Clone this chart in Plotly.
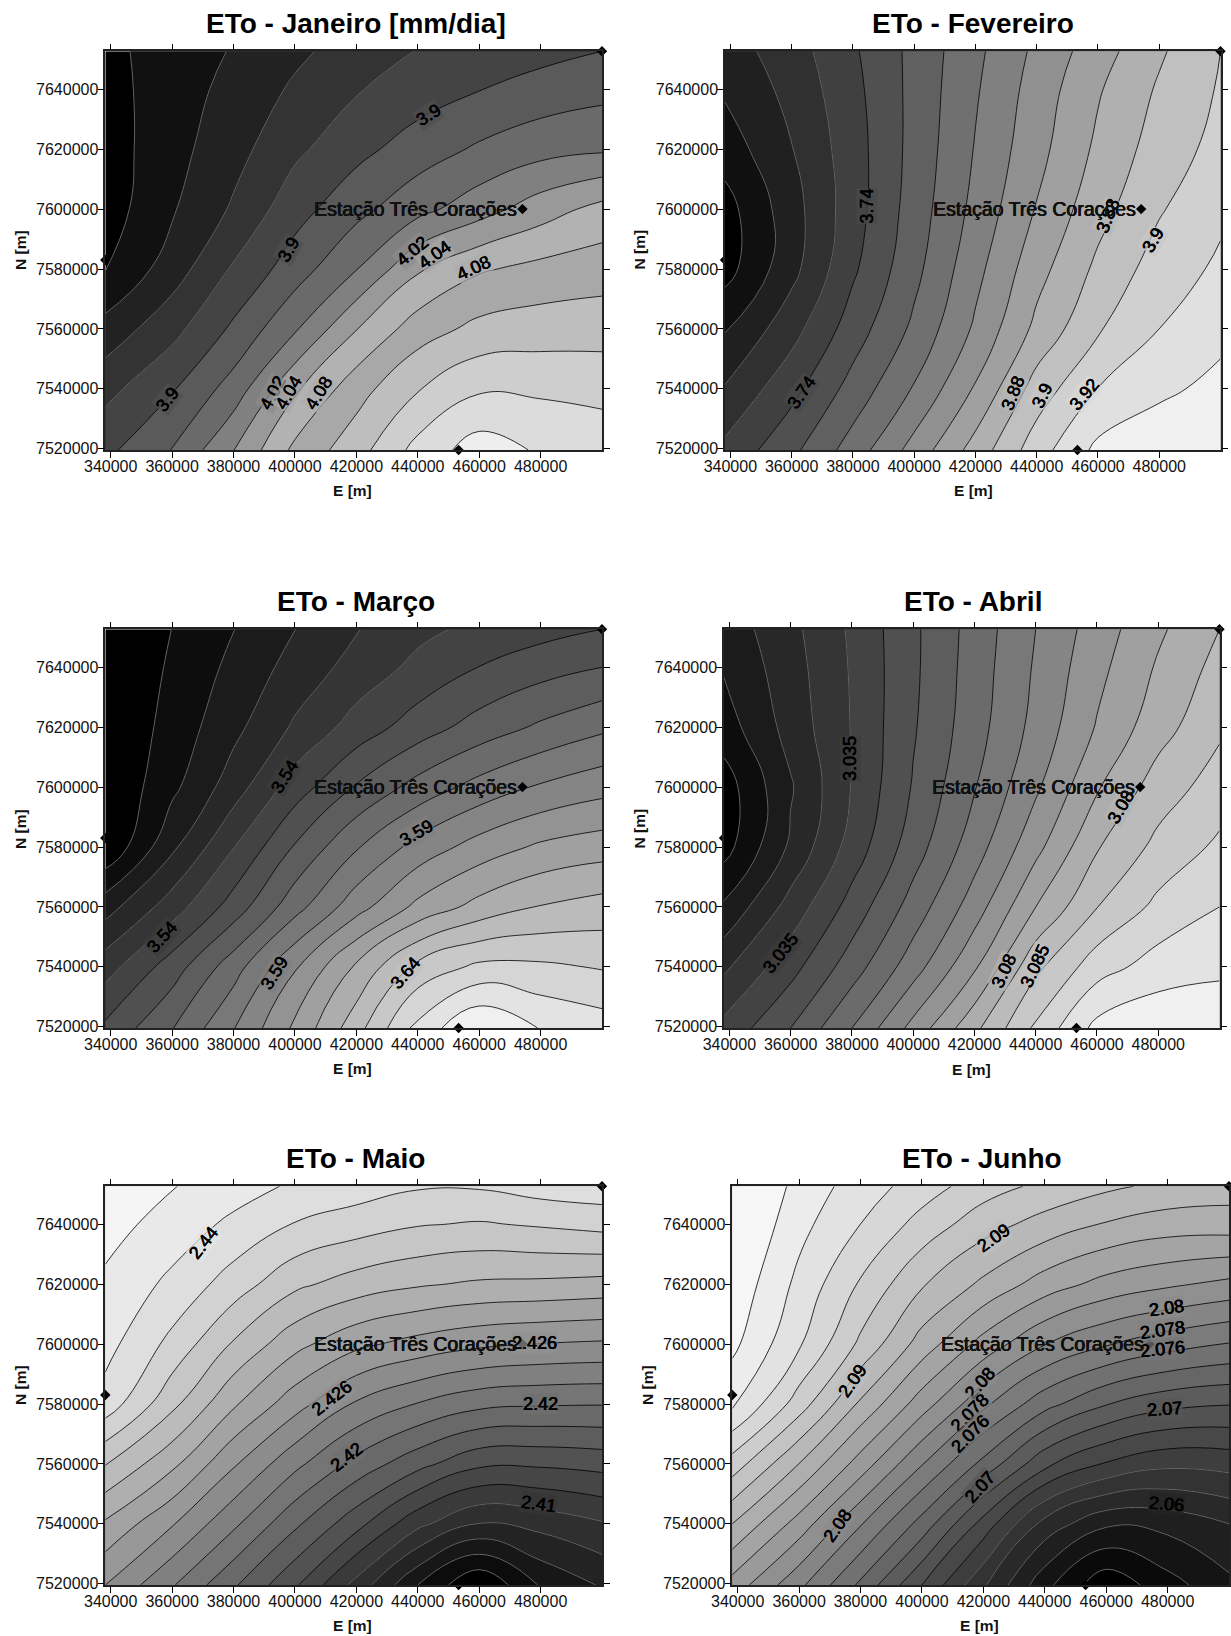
import numpy as np
import plotly.graph_objects as go

# Grid nodes (E, N) in metres
east = [338250, 360000, 380000, 400000, 420000, 440000, 460000, 480000, 500000]
north = [7519566, 7540000, 7560000, 7580000, 7600000, 7620000, 7640000, 7652690]
tick_e = [340000, 360000, 380000, 400000, 420000, 440000, 460000, 480000]
tick_n = [7520000, 7540000, 7560000, 7580000, 7600000, 7620000, 7640000]

# ETo [mm/dia], rows from south to north
jan_z = [
 [3.890, 3.9412, 4.019, 4.0896, 4.1435, 4.2137, 4.260, 4.235, 4.225],
 [3.847, 3.897, 3.947, 4.044, 4.107, 4.158, 4.200, 4.195, 4.1875],
 [3.7945, 3.846, 3.908, 3.965, 4.047, 4.104, 4.131, 4.139, 4.143],
 [3.738, 3.7956, 3.868, 3.920, 3.967, 4.045, 4.084, 4.095, 4.101],
 [3.720, 3.7756, 3.820, 3.887, 3.929, 3.9605, 3.995, 4.032, 4.053],
 [3.720, 3.767, 3.804, 3.852, 3.887, 3.920, 3.948, 3.962, 3.974],
 [3.725, 3.761, 3.7918, 3.8245, 3.857, 3.877, 3.8955, 3.915, 3.9277],
 [3.730, 3.757, 3.783, 3.8116, 3.8376, 3.8615, 3.874, 3.887, 3.900],
]
feb_z = [
 [3.725, 3.755, 3.789, 3.8275, 3.868, 3.911, 3.945, 3.955, 3.958],
 [3.7016, 3.7336, 3.767, 3.800, 3.840, 3.8915, 3.9225, 3.935, 3.946],
 [3.6785, 3.712, 3.750, 3.783, 3.822, 3.8646, 3.8975, 3.9205, 3.934],
 [3.652, 3.691, 3.737, 3.773, 3.814, 3.8536, 3.885, 3.9107, 3.9236],
 [3.652, 3.6906, 3.7308, 3.7694, 3.8054, 3.8414, 3.873, 3.8985, 3.916],
 [3.669, 3.6995, 3.730, 3.7667, 3.8017, 3.8328, 3.8645, 3.890, 3.9065],
 [3.683, 3.7056, 3.7336, 3.766, 3.7976, 3.8288, 3.8587, 3.883, 3.902],
 [3.690, 3.711, 3.737, 3.7657, 3.7952, 3.8245, 3.851, 3.877, 3.900],
]
mar_z = [
 [3.552, 3.5695, 3.5895, 3.6118, 3.636, 3.6635, 3.680, 3.6695, 3.665],
 [3.5356, 3.5555, 3.5762, 3.6003, 3.6231, 3.6460, 3.6535, 3.6525, 3.6492],
 [3.5157, 3.5349, 3.5530, 3.5754, 3.5949, 3.6114, 3.6224, 3.6307, 3.6341],
 [3.491, 3.5178, 3.5401, 3.5614, 3.5797, 3.5944, 3.6049, 3.6125, 3.6153],
 [3.490, 3.5068, 3.5237, 3.5454, 3.5611, 3.5739, 3.5837, 3.5915, 3.5964],
 [3.490, 3.5038, 3.5169, 3.531, 3.5437, 3.5543, 3.5639, 3.5713, 3.5779],
 [3.490, 3.5014, 3.5123, 3.5234, 3.5331, 3.5419, 3.5497, 3.5554, 3.560],
 [3.490, 3.5001, 3.5098, 3.5199, 3.5295, 3.5374, 3.5425, 3.5463, 3.550],
]
abr_z = [
 [3.0365, 3.045, 3.055, 3.0666, 3.0787, 3.091, 3.1015, 3.104, 3.105],
 [3.029, 3.0381, 3.0472, 3.0572, 3.0682, 3.085, 3.0931, 3.0975, 3.0985],
 [3.0208, 3.0322, 3.0419, 3.052, 3.062, 3.075, 3.0848, 3.0916, 3.095],
 [3.013, 3.0255, 3.0368, 3.0474, 3.0574, 3.068, 3.0803, 3.0864, 3.091],
 [3.0125, 3.024, 3.0352, 3.0454, 3.0546, 3.0638, 3.0745, 3.083, 3.0873],
 [3.0176, 3.0274, 3.035, 3.0446, 3.0527, 3.0614, 3.0703, 3.0777, 3.0841],
 [3.0205, 3.0278, 3.0354, 3.044, 3.0523, 3.0606, 3.0685, 3.0757, 3.0816],
 [3.022, 3.0286, 3.0358, 3.044, 3.052, 3.060, 3.0674, 3.0741, 3.080],
]
mai_z = [
 [2.426, 2.4222, 2.4183, 2.4143, 2.4093, 2.404, 2.400, 2.4042, 2.4062],
 [2.4297, 2.4261, 2.4226, 2.4183, 2.415, 2.4103, 2.4078, 2.4084, 2.4098],
 [2.4341, 2.4307, 2.4261, 2.4225, 2.4192, 2.4169, 2.4141, 2.4143, 2.4147],
 [2.4392, 2.4346, 2.4303, 2.4269, 2.4235, 2.4218, 2.4205, 2.4202, 2.4201],
 [2.4407, 2.4376, 2.4337, 2.4305, 2.4284, 2.4273, 2.4264, 2.4259, 2.4257],
 [2.4416, 2.4396, 2.4372, 2.4343, 2.4331, 2.4323, 2.4318, 2.4317, 2.4313],
 [2.4428, 2.4412, 2.4397, 2.438, 2.4372, 2.4363, 2.4359, 2.4365, 2.4367],
 [2.4436, 2.4421, 2.4409, 2.4397, 2.439, 2.4382, 2.4382, 2.4389, 2.4392],
]
jun_z = [
 [2.0832, 2.0785, 2.0736, 2.068, 2.0623, 2.0566, 2.0525, 2.0552, 2.0575],
 [2.088, 2.0832, 2.078, 2.0736, 2.067, 2.0605, 2.0577, 2.0582, 2.060],
 [2.0931, 2.0878, 2.0833, 2.0779, 2.0738, 2.0683, 2.066, 2.0642, 2.0647],
 [2.0984, 2.0933, 2.0875, 2.0831, 2.0783, 2.0748, 2.0719, 2.0705, 2.0701],
 [2.1005, 2.0966, 2.0918, 2.0872, 2.0832, 2.0799, 2.0783, 2.0769, 2.0759],
 [2.1015, 2.0974, 2.0937, 2.090, 2.0878, 2.085, 2.0832, 2.0824, 2.0815],
 [2.1025, 2.0985, 2.0962, 2.0934, 2.0908, 2.0895, 2.088, 2.0872, 2.087],
 [2.1035, 2.0992, 2.0971, 2.095, 2.0929, 2.0915, 2.0904, 2.0895, 2.089],
]

# Contour levels of each map
jan_levels = [3.74, 3.78, 3.82, 3.86, 3.90, 3.94, 3.98, 4.02, 4.04, 4.08, 4.12, 4.16, 4.20, 4.24]
feb_levels = [round(3.66 + 0.02 * i, 3) for i in range(15)]
mar_levels = [round(3.50 + 0.01 * i, 3) for i in range(18)]
abr_levels = [round(3.015 + 0.005 * i, 3) for i in range(18)]
mai_levels = [round(2.402 + 0.002 * i, 3) for i in range(21)]
jun_levels = [round(2.054 + 0.002 * i, 3) for i in range(24)]

# Inline contour labels: text, E, N, angle
jan_labels = [("3.9", 443470, 7631444, -32), ("3.9", 397840, 7586440, -60), ("4.02", 438330, 7585900, -40),
              ("4.04", 445400, 7584780, -36), ("4.08", 458250, 7580330, -25), ("3.9", 358640, 7536440, -52),
              ("4.02", 392700, 7538670, -62), ("4.04", 397840, 7538670, -60), ("4.08", 407730, 7538670, -58)]
feb_labels = [("3.74", 384670, 7600890, -90), ("3.74", 363100, 7538670, -55), ("3.88", 463350, 7597560, -68),
              ("3.9", 477940, 7589780, -60), ("3.88", 432250, 7538670, -68), ("3.9", 441780, 7537560, -65),
              ("3.92", 455730, 7538110, -50)]
mar_labels = [("3.54", 396550, 7603440, -58), ("3.59", 439600, 7584560, -30), ("3.54", 356710, 7550110, -48),
              ("3.59", 393340, 7537890, -58), ("3.64", 436000, 7537890, -50)]
abr_labels = [("3.035", 379590, 7609560, -90), ("3.08", 467780, 7593440, -60), ("3.035", 356750, 7544560, -52),
              ("3.08", 429710, 7538440, -65), ("3.085", 439860, 7540110, -65)]
mai_labels = [("2.44", 370200, 7633780, -52), ("2.426", 478170, 7600220, 0), ("2.426", 411970, 7582110, -38),
              ("2.42", 479840, 7579890, 0), ("2.42", 416860, 7562330, -38), ("2.41", 479460, 7546560, 8)]
jun_labels = [("2.09", 423340, 7635440, -35), ("2.09", 377370, 7587670, -55), ("2.08", 418910, 7587110, -48),
              ("2.078", 415490, 7577110, -45), ("2.076", 415740, 7569890, -45), ("2.07", 418910, 7552440, -48),
              ("2.08", 372420, 7539330, -55), ("2.08", 479700, 7612110, -8), ("2.078", 478440, 7604670, -8),
              ("2.076", 478440, 7598220, -6), ("2.07", 479070, 7578440, -4), ("2.06", 479700, 7546560, 5)]

# Weather stations
station_e = [338250, 500000, 453300, 474100]
station_n = [7583000, 7652690, 7519566, 7600000]
station_name = "Estação Três Corações"

titles = ["ETo - Janeiro [mm/dia]", "ETo - Fevereiro", "ETo - Março", "ETo - Abril", "ETo - Maio", "ETo - Junho"]

W, H = 1231, 1636
boxes = [(105.3, 602, 51.3, 450), (725, 1220.5, 51.3, 450),
         (105.3, 602, 629.3, 1028), (724, 1219.5, 629.3, 1028),
         (105.3, 602, 1186.3, 1585), (732.3, 1229, 1186.3, 1585)]
title_pos = [(355.7, 24), (973, 24), (355.7, 601), (973, 601), (355.7, 1158), (981.7, 1158)]
etitle_pos = [(352.6, 491), (973.3, 490), (352.6, 1068), (971.2, 1069), (352.6, 1625), (979.6, 1625)]
ntitle_pos = [(20, 250), (638.5, 250), (20, 829), (638.5, 829), (20, 1385), (647, 1385)]


def grey(v, a=1):
    v = int(round(v))
    return f"rgba({v},{v},{v},{a})"


jan_grey = [0, 17, 34, 51, 68, 90, 106, 128, 153, 178, 168, 190, 206, 220, 238]

panels = [
    (jan_z, jan_levels, jan_labels, jan_grey, 238),
    (feb_z, feb_levels, feb_labels, None, 240),
    (mar_z, mar_levels, mar_labels, None, 240),
    (abr_z, abr_levels, abr_labels, None, 240),
    (mai_z, mai_levels, mai_labels, None, 245),
    (jun_z, jun_levels, jun_labels, None, 246),
]

FONT = "Liberation Sans, Arial, sans-serif"
HEAVY = "0.5px 0 0 #000, -0.2px 0 0 #000"
fig = go.Figure()
annotations = []

for i, (z, levels, labels, greys, top) in enumerate(panels):
    sfx = "" if i == 0 else str(i + 1)
    xa, ya = f"x{sfx}", f"y{sfx}"
    n = len(levels)
    if greys is None:
        greys = list(np.linspace(0, top, n + 1))
    scale = [[k / n, grey(greys[k])] for k in range(n + 1)]
    lv = np.array(levels, float)
    ext_l = np.concatenate([[lv[0] - (lv[1] - lv[0]) * 50], lv, [lv[-1] + (lv[-1] - lv[-2]) * 50]])
    ext_i = np.concatenate([[-50], np.arange(n), [n - 1 + 50]])
    zi = np.interp(np.array(z, float), ext_l, ext_i)
    # Damp the reading noise of the hand-read interior nodes
    soft = zi.copy()
    soft[1:-1, 1:-1] = 0.6 * zi[1:-1, 1:-1] + 0.1 * (zi[:-2, 1:-1] + zi[2:, 1:-1] + zi[1:-1, :-2] + zi[1:-1, 2:])
    zi = soft

    fig.add_trace(go.Contour(
        x=east, y=north, z=zi, xaxis=xa, yaxis=ya, colorscale=scale, showscale=False,
        autocontour=False, contours=dict(start=0, end=n - 1, size=1, coloring="fill"),
        line=dict(color="black", width=0.8, smoothing=1.3), hoverinfo="skip"))
    dark = [k for k in range(n) if (greys[k] + greys[k + 1]) / 2 < 62]
    if dark:
        fig.add_trace(go.Contour(
            x=east, y=north, z=zi, xaxis=xa, yaxis=ya, showscale=False,
            autocontour=False, contours=dict(start=0, end=dark[-1], size=1, coloring="none"),
            line=dict(color="#8c8c8c", width=0.7, smoothing=1.3), hoverinfo="skip"))

    fig.add_trace(go.Scatter(
        x=station_e, y=station_n, xaxis=xa, yaxis=ya, mode="markers", cliponaxis=False,
        marker=dict(symbol="diamond", size=8, color="black"), hoverinfo="skip", showlegend=False))

    x0, x1, y0, y1 = boxes[i]
    dom_x = [x0 / W, x1 / W]
    dom_y = [1 - y1 / H, 1 - y0 / H]
    fig.update_layout({
        f"xaxis{sfx}": dict(domain=dom_x, anchor=ya, range=[east[0], east[-1]], tickmode="array",
                            tickvals=tick_e, ticktext=[str(v) for v in tick_e], ticks="outside",
                            ticklen=6, tickwidth=1, tickcolor="black", mirror="ticks", showline=True,
                            linecolor="#222", linewidth=1.5, showgrid=False, zeroline=False, automargin=False,
                            ticklabelstandoff=-5,
                            tickfont=dict(family=FONT, size=16, color="#111"), layer="above traces"),
        f"yaxis{sfx}": dict(domain=dom_y, anchor=xa, range=[north[0], north[-1]], tickmode="array",
                            tickvals=tick_n, ticktext=[str(v) for v in tick_n], ticks="outside",
                            ticklen=6, tickwidth=1, tickcolor="black", mirror="ticks", showline=True,
                            linecolor="#222", linewidth=1.5, showgrid=False, zeroline=False, automargin=False,
                            ticklabelstandoff=-4,
                            tickfont=dict(family=FONT, size=16, color="#111"), layer="above traces"),
    })

    for text, e, nn, ang in labels:
        k = levels.index(float(text))
        annotations.append(dict(xref=xa, yref=ya, x=e, y=nn, text=text, showarrow=False, textangle=ang,
                                bgcolor=grey((greys[k] + greys[k + 1]) / 2, 0.7), borderpad=0,
                                font=dict(family=FONT, size=18, color="black", shadow=HEAVY)))
    annotations.append(dict(xref=xa, yref=ya, x=station_e[3], y=station_n[3], text=station_name, showarrow=False,
                            xanchor="right", xshift=-3,
                            font=dict(family=FONT, size=19.5, color="#111", shadow=HEAVY)))
    annotations.append(dict(xref="paper", yref="paper", x=title_pos[i][0] / W, y=1 - title_pos[i][1] / H,
                            text=f"<b>{titles[i]}</b>", showarrow=False, xanchor="center", yanchor="middle",
                            font=dict(family=FONT, size=28, color="black")))
    annotations.append(dict(xref="paper", yref="paper", x=etitle_pos[i][0] / W, y=1 - etitle_pos[i][1] / H,
                            text="<b>E [m]</b>", showarrow=False, xanchor="center", yanchor="middle",
                            font=dict(family=FONT, size=15.5, color="#111")))
    annotations.append(dict(xref="paper", yref="paper", x=ntitle_pos[i][0] / W, y=1 - ntitle_pos[i][1] / H,
                            text="<b>N [m]</b>", showarrow=False, xanchor="center", yanchor="middle", textangle=-90,
                            font=dict(family=FONT, size=15.5, color="#111")))

fig.update_layout(width=W, height=H, margin=dict(l=0, r=0, t=0, b=0), paper_bgcolor="white",
                  plot_bgcolor="white", showlegend=False, annotations=annotations)

fig.write_html("out.html", config=dict(displayModeBar=False),
               post_script="document.body.style.margin='0';document.documentElement.style.overflow='hidden';")
